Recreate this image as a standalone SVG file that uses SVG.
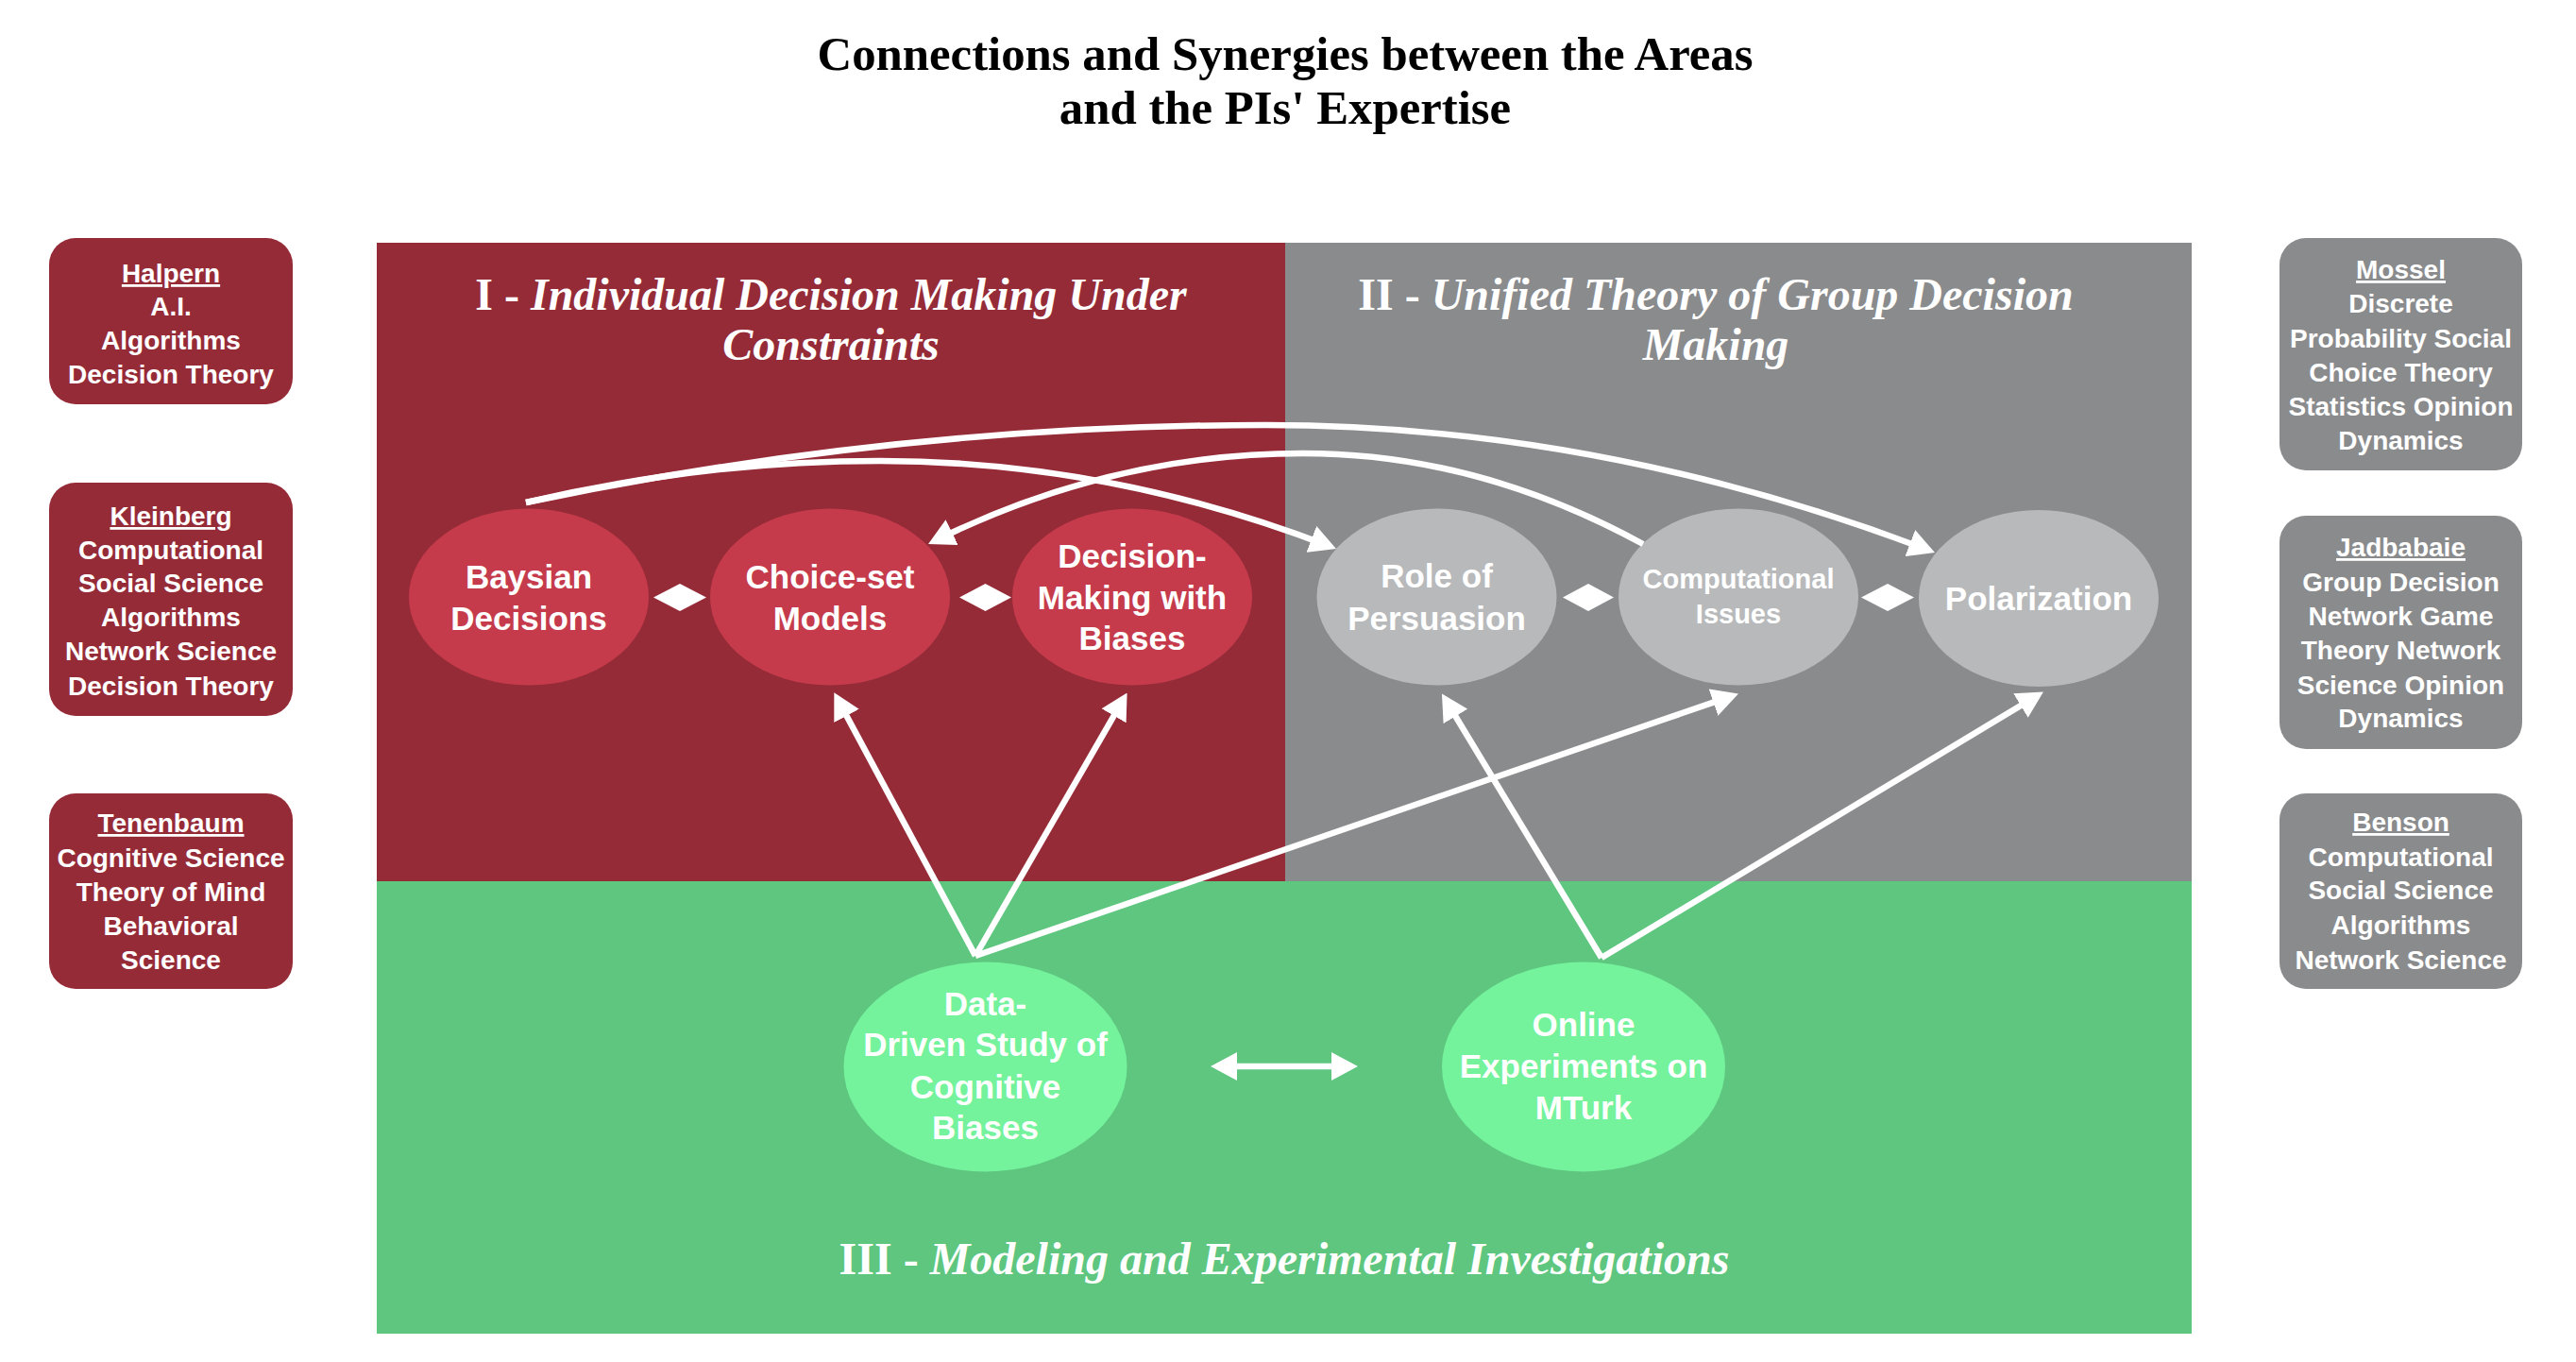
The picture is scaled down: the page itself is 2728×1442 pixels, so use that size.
<svg xmlns="http://www.w3.org/2000/svg" width="2728" height="1442" viewBox="0 0 2728 1442">
<style>
.title{font-family:"Liberation Serif","Times New Roman",serif;font-weight:bold;font-size:50.8px;fill:#000;text-anchor:middle}
.rt{font-family:"Liberation Serif","Times New Roman",serif;font-weight:bold;font-size:48px;fill:#fff;text-anchor:middle}
.it{font-style:italic}
.pi{font-family:"Liberation Sans",Arial,sans-serif;font-weight:bold;font-size:28px;fill:#fff;text-anchor:middle}
.nm{text-decoration:underline}
.nt{font-family:"Liberation Sans",Arial,sans-serif;font-weight:bold;font-size:35px;fill:#fff;text-anchor:middle}
.ns{font-size:29px}
.red{fill:#962B38}
.gray{fill:#8A8B8D}
.green{fill:#5EC67F}
.rc{fill:#C53B4B}
.gc{fill:#B8B9BB}
.ec{fill:#74F29C}
.edge{fill:none;stroke:#fff;stroke-width:6.5}
.dia{fill:#fff}
</style>
<defs>
<marker id="ah" viewBox="0 0 28 30" refX="20" refY="15" markerWidth="28" markerHeight="30" markerUnits="userSpaceOnUse" orient="auto-start-reverse">
<path d="M0,0 L28,15 L0,30 z" fill="#fff"/>
</marker>
</defs>
<rect width="2728" height="1442" fill="#fff"/>
<text class="title" x="1361" y="74">Connections and Synergies between the Areas</text>
<text class="title" x="1361" y="131">and the PIs' Expertise</text>

<g id="regions">
<rect class="red" x="399" y="257" width="962" height="676"/>
<rect class="gray" x="1361" y="257" width="960" height="676"/>
<rect class="green" x="399" y="933" width="1922" height="479"/>
<text class="rt" x="880" y="328">I - <tspan class="it">Individual Decision Making Under</tspan></text>
<text class="rt it" x="880" y="381">Constraints</text>
<text class="rt" x="1817" y="328">II - <tspan class="it">Unified Theory of Group Decision</tspan></text>
<text class="rt it" x="1817" y="381">Making</text>
<text class="rt" x="1360" y="1349">III - <tspan class="it">Modeling and Experimental Investigations</tspan></text>
</g>

<g id="pi-halpern">
<rect class="red" x="52" y="252" width="258" height="176" rx="28"/>
<text class="pi"><tspan class="nm" x="181" y="299">Halpern</tspan><tspan x="181" y="334">A.I.</tspan><tspan x="181" y="370">Algorithms</tspan><tspan x="181" y="406">Decision Theory</tspan></text>
</g>
<g id="pi-kleinberg">
<rect class="red" x="52" y="511" width="258" height="247" rx="28"/>
<text class="pi"><tspan class="nm" x="181" y="556">Kleinberg</tspan><tspan x="181" y="592">Computational</tspan><tspan x="181" y="627">Social Science</tspan><tspan x="181" y="663">Algorithms</tspan><tspan x="181" y="699">Network Science</tspan><tspan x="181" y="736">Decision Theory</tspan></text>
</g>
<g id="pi-tenenbaum">
<rect class="red" x="52" y="840" width="258" height="207" rx="28"/>
<text class="pi"><tspan class="nm" x="181" y="881">Tenenbaum</tspan><tspan x="181" y="918">Cognitive Science</tspan><tspan x="181" y="954">Theory of Mind</tspan><tspan x="181" y="990">Behavioral</tspan><tspan x="181" y="1026">Science</tspan></text>
</g>
<g id="pi-mossel">
<rect class="gray" x="2414" y="252" width="257" height="246" rx="28"/>
<text class="pi"><tspan class="nm" x="2542.5" y="295">Mossel</tspan><tspan x="2542.5" y="331">Discrete</tspan><tspan x="2542.5" y="368">Probability Social</tspan><tspan x="2542.5" y="404">Choice Theory</tspan><tspan x="2542.5" y="440">Statistics Opinion</tspan><tspan x="2542.5" y="476">Dynamics</tspan></text>
</g>
<g id="pi-jadbabaie">
<rect class="gray" x="2414" y="546" width="257" height="247" rx="28"/>
<text class="pi"><tspan class="nm" x="2542.5" y="589">Jadbabaie</tspan><tspan x="2542.5" y="626">Group Decision</tspan><tspan x="2542.5" y="662">Network Game</tspan><tspan x="2542.5" y="698">Theory Network</tspan><tspan x="2542.5" y="735">Science Opinion</tspan><tspan x="2542.5" y="770">Dynamics</tspan></text>
</g>
<g id="pi-benson">
<rect class="gray" x="2414" y="840" width="257" height="207" rx="28"/>
<text class="pi"><tspan class="nm" x="2542.5" y="880">Benson</tspan><tspan x="2542.5" y="917">Computational</tspan><tspan x="2542.5" y="952">Social Science</tspan><tspan x="2542.5" y="989">Algorithms</tspan><tspan x="2542.5" y="1026">Network Science</tspan></text>
</g>

<g id="n-baysian">
<ellipse class="rc" cx="560" cy="632" rx="127" ry="93.5"/>
<text class="nt"><tspan x="560" y="623">Baysian</tspan><tspan x="560" y="667">Decisions</tspan></text>
</g>
<g id="n-choiceset">
<ellipse class="rc" cx="879" cy="632" rx="127" ry="93.5"/>
<text class="nt"><tspan x="879" y="623">Choice-set</tspan><tspan x="879" y="667">Models</tspan></text>
</g>
<g id="n-biases">
<ellipse class="rc" cx="1199" cy="632" rx="127" ry="93.5"/>
<text class="nt"><tspan x="1199" y="601">Decision-</tspan><tspan x="1199" y="645">Making with</tspan><tspan x="1199" y="688">Biases</tspan></text>
</g>
<g id="n-persuasion">
<ellipse class="gc" cx="1521.5" cy="632" rx="127" ry="93.5"/>
<text class="nt"><tspan x="1521.5" y="622">Role of</tspan><tspan x="1521.5" y="667">Persuasion</tspan></text>
</g>
<g id="n-computational">
<ellipse class="gc" cx="1841" cy="632" rx="127" ry="93.5"/>
<text class="nt ns"><tspan x="1841" y="623">Computational</tspan><tspan x="1841" y="660">Issues</tspan></text>
</g>
<g id="n-polarization">
<ellipse class="gc" cx="2159" cy="633.5" rx="127" ry="93.5"/>
<text class="nt" x="2159" y="646">Polarization</text>
</g>
<g id="n-datadriven">
<ellipse class="ec" cx="1043.5" cy="1129.5" rx="150" ry="111"/>
<text class="nt"><tspan x="1043.5" y="1075">Data-</tspan><tspan x="1043.5" y="1118">Driven Study of</tspan><tspan x="1043.5" y="1163">Cognitive</tspan><tspan x="1043.5" y="1206">Biases</tspan></text>
</g>
<g id="n-online">
<ellipse class="ec" cx="1677" cy="1129.5" rx="150" ry="111"/>
<text class="nt"><tspan x="1677" y="1097">Online</tspan><tspan x="1677" y="1141">Experiments on</tspan><tspan x="1677" y="1185">MTurk</tspan></text>
</g>

<g id="connectors">
<path class="edge" d="M557,532 Q948.5,450 1340,450 Q1694.5,450 2041.5,582.2" marker-end="url(#ah)"/>
<path class="edge" d="M557,532 Q744.5,488 932,488 Q1173.5,488 1407.5,578.1" marker-end="url(#ah)"/>
<path class="edge" d="M1740,576 C1610,505 1490,480 1380,480 Q1178,480 990.2,572.5" marker-end="url(#ah)"/>
<path class="edge" d="M1033,1012 L887.1,740.3" marker-end="url(#ah)"/>
<path class="edge" d="M1033,1012 L1189.6,740.5" marker-end="url(#ah)"/>
<path class="edge" d="M1033,1012 L1833.4,737.1" marker-end="url(#ah)"/>
<path class="edge" d="M1696,1014 L1531.1,741.3" marker-end="url(#ah)"/>
<path class="edge" d="M1696,1014 L2157.1,736.7" marker-end="url(#ah)"/>
<path class="edge" d="M1290,1129 L1430,1129" marker-start="url(#ah)" marker-end="url(#ah)"/>
<polygon class="dia" points="692,632.5 720,618 748,632.5 720,647"/>
<polygon class="dia" points="1016,632.5 1043.5,618 1071,632.5 1043.5,647"/>
<polygon class="dia" points="1655,632.5 1682,618 1709,632.5 1682,647"/>
<polygon class="dia" points="1971,632.5 1999,618 2027,632.5 1999,647"/>
</g>
</svg>
